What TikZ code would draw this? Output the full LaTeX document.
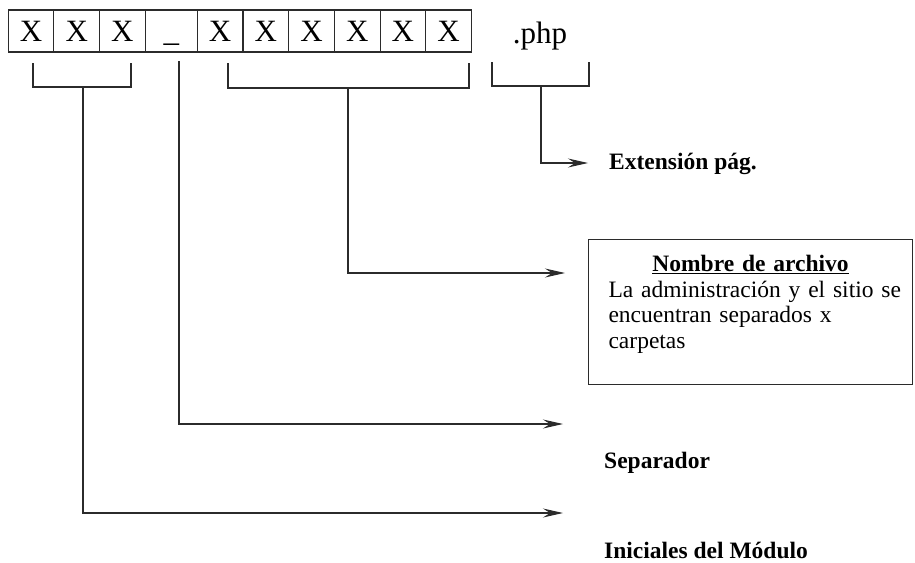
\documentclass[tikz,border=0pt]{standalone}
\usepackage{fontspec}
\setmainfont{Liberation Serif}
\usetikzlibrary{arrows.meta, positioning}
\definecolor{ink}{HTML}{2B2B2B}

\begin{document}
\begin{tikzpicture}[
    x=1pt, y=-1pt,
    cell/.style={rectangle, draw=ink, line width=1.1pt, minimum width=45.7pt,
                 minimum height=42pt, inner sep=0pt, outer sep=0pt,
                 text height=21pt, text depth=0pt,
                 font=\fontsize{31}{31}\selectfont},
    bracket/.style={draw=ink, line width=1.1pt},
    arrow/.style={-{Stealth[length=20pt, width=9pt, inset=7pt]},
                  line width=1.1pt, color=ink},
    lbl/.style={font=\fontsize{23.5}{23.5}\selectfont\bfseries,
                anchor=base west, inner sep=0pt},
    notebox/.style={rectangle, draw=ink, line width=1.1pt, anchor=north west,
                    text width=302pt, inner xsep=11pt, inner ysep=16pt,
                    align=left, font=\fontsize{23.5}{25.5}\selectfont}
]
\useasboundingbox (0,0) rectangle (915,562);

% File name cells
\node[cell] (c1) at (31,31) {X};
\node[cell, right=0pt of c1] (c2) {X};
\node[cell, right=0pt of c2] (c3) {X};
\node[cell, right=0pt of c3, minimum width=52pt] (sep) {\_\hspace{16pt}};
\node[cell, right=0pt of sep] (c4) {X};
\node[cell, right=0pt of c4] (c5) {X};
\node[cell, right=0pt of c5] (c6) {X};
\node[cell, right=0pt of c6] (c7) {X};
\node[cell, right=0pt of c7] (c8) {X};
\node[cell, right=0pt of c8] (c9) {X};
\node[anchor=base, font=\fontsize{31}{31}\selectfont] (php) at (540,43) {.php};

% Brackets under the groups
\draw[bracket] (33,63) -- (33,87) -- (131,87) -- (131,63);
\draw[bracket] (228,63) -- (228,88) -- (469,88) -- (469,63);
\draw[bracket] (492,62) -- (492,86) -- (589,86) -- (589,62);
\coordinate (iniTop) at (83,87);
\coordinate (sepTop) at (179,61);
\coordinate (nomTop) at (348,88);
\coordinate (extTop) at (541,86);

% Labels
\node[lbl] (extLbl) at (609,169) {Extensión pág.};
\node[notebox] (nombre) at (588,239)
    {\makebox[\hsize]{\textbf{\underline{Nombre de archivo}}}\\
     \hspace*{9pt}La administración y el sitio se\\
     \hspace*{9pt}encuentran separados x\\
     \hspace*{9pt}carpetas\rule[-20pt]{0pt}{20pt}};
\node[lbl] (sepLbl) at (604,468) {Separador};
\node[lbl] (iniLbl) at (604,558) {Iniciales del Módulo};

% Arrow ends
\coordinate (extEnd) at (588,163);
\coordinate (nomEnd) at (565,273);
\coordinate (sepEnd) at (563,424);
\coordinate (iniEnd) at (563,513);

\draw[arrow] (extTop) |- (extEnd);
\draw[arrow] (nomTop) |- (nomEnd);
\draw[arrow] (sepTop) |- (sepEnd);
\draw[arrow] (iniTop) |- (iniEnd);

\end{tikzpicture}
\end{document}
